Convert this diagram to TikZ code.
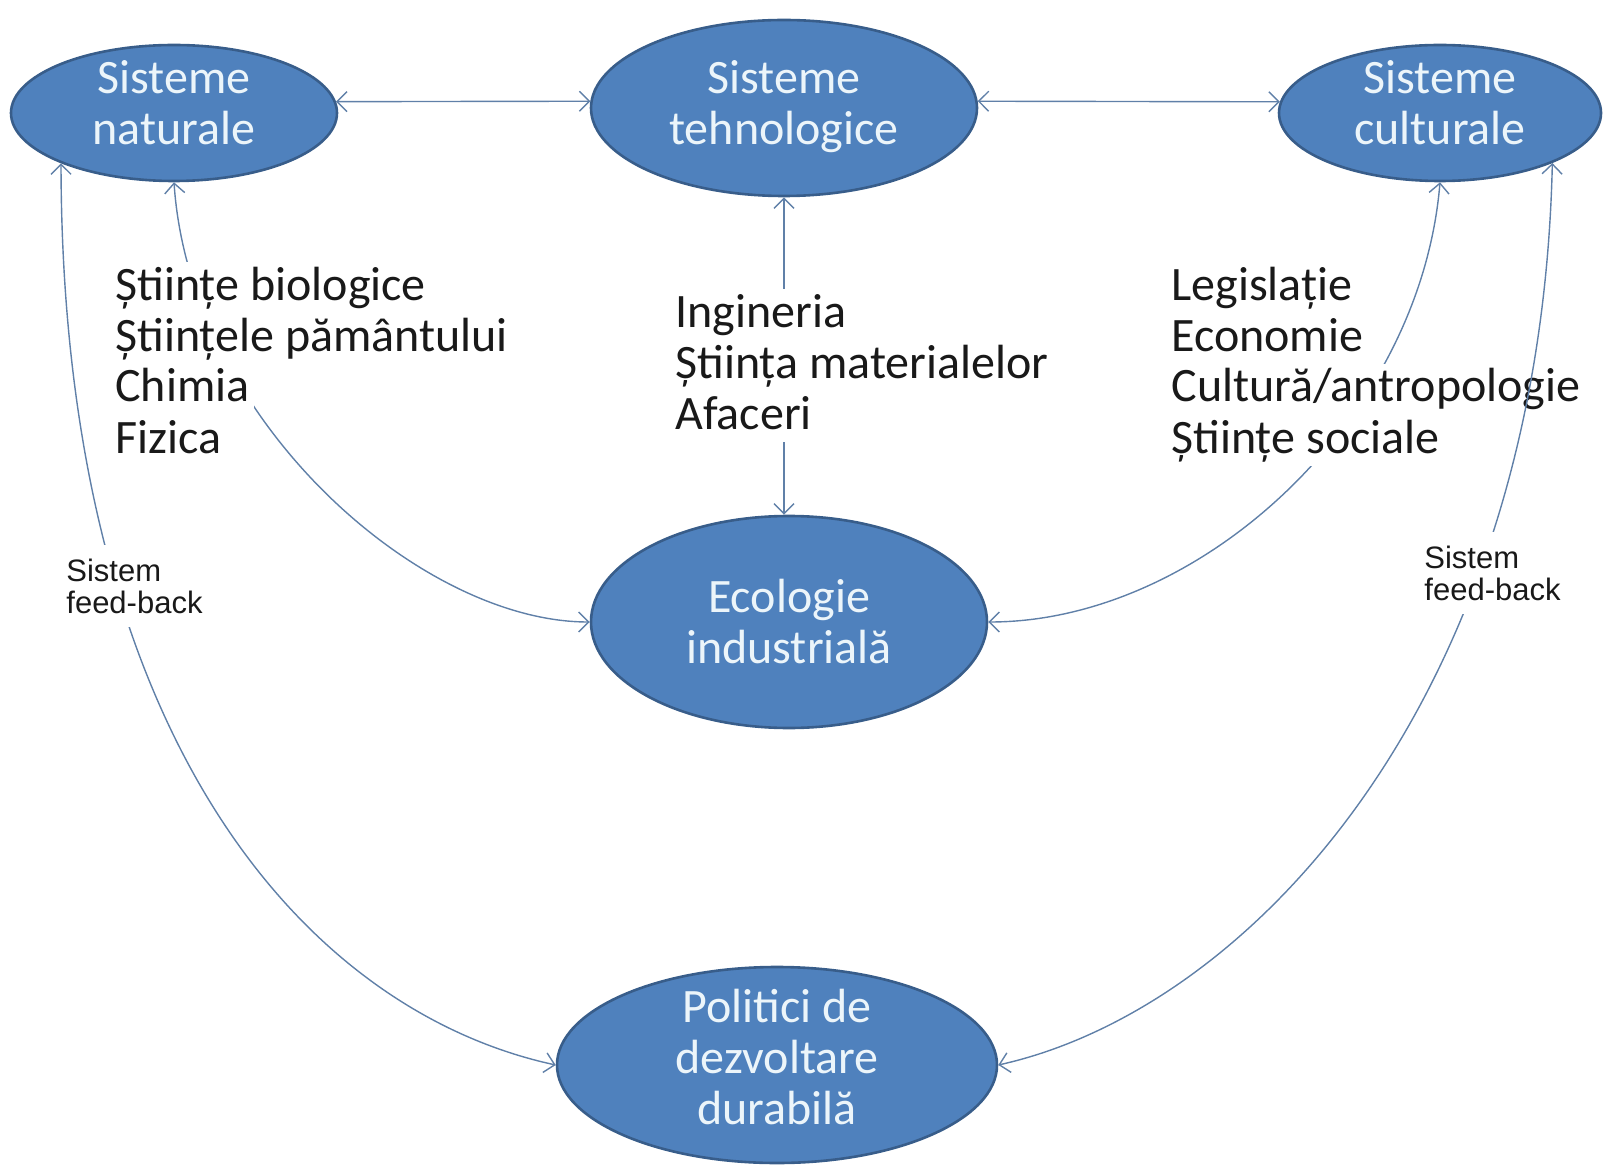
\documentclass[tikz,border=0pt]{standalone}
\usepackage{fontspec}
\setmainfont{Carlito}
\newfontfamily\labelfont{Liberation Sans}
\usetikzlibrary{shapes.geometric, arrows.meta}

\definecolor{sysfill}{RGB}{79,129,189}
\definecolor{sysdraw}{RGB}{56,93,138}
\definecolor{systext}{RGB}{236,245,250}
\definecolor{linkcol}{RGB}{96,128,168}
\definecolor{listtext}{RGB}{25,25,25}

\newcommand{\maskline}[1]{{\setlength{\fboxsep}{0pt}\colorbox{white}{\rule[-6.5pt]{0pt}{25.5pt}\hspace*{2pt}#1\hspace*{2pt}}}}
\newcommand{\liftby}[1]{\rule[-#1]{0pt}{0pt}}

\tikzset{
    system/.style={ellipse, draw=sysdraw, fill=sysfill, line width=1.3pt, text=systext,
        align=center, inner sep=0pt, inner ysep=-3pt, font=\fontsize{24}{25.5}\selectfont},
    list/.style={anchor=west, align=left, inner sep=0pt, text=listtext,
        font=\fontsize{24}{25.5}\selectfont},
    feedback/.style={anchor=west, align=left, fill=white, inner xsep=3pt, inner ysep=7pt,
        text=listtext, font=\labelfont\fontsize{15.5}{16}\selectfont},
    link/.style={{Straight Barb[length=5pt,width=10pt]}-{Straight Barb[length=5pt,width=10pt]},
        draw=linkcol, line width=0.7pt}
}

\begin{document}
\begin{tikzpicture}[x=0.5pt, y=-0.5pt]
    \useasboundingbox (0,0) rectangle (1604,1165);
    \node[system, minimum width=163pt, minimum height=68pt] (naturale) at (174,113)
        {Sisteme\\naturale\liftby{11pt}};
    \node[system, minimum width=193pt, minimum height=88pt] (tehnologice) at (784,108)
        {Sisteme\\tehnologice\liftby{6pt}};
    \node[system, minimum width=161pt, minimum height=68pt] (culturale) at (1440,113)
        {Sisteme\\culturale\liftby{11pt}};
    \node[system, minimum width=198pt, minimum height=106pt] (ecologie) at (789,622) {Ecologie\\industrială};
    \node[system, minimum width=220pt, minimum height=98pt, inner ysep=-6pt] (politici) at (777,1065)
        {Politici de\\dezvoltare\\durabilă\liftby{8pt}};
    \draw[link] (naturale.4) -- (tehnologice.178);
    \draw[link] (tehnologice.2) -- (culturale.176);
    \draw[link] (tehnologice.south) -- (tehnologice.south |- ecologie.north);
    \draw[link] (naturale.south) .. controls (190,420) and (420,622) .. (ecologie.west);
    \draw[link] (culturale.south) .. controls (1420,420) and (1200,622) .. (ecologie.east);
    \node[list] (natural-list) at (111,364)
        {\maskline{Științe biologice}\\\maskline{Științele pământului}\\\maskline{Chimia}\\\maskline{Fizica}};
    \node[list] (tech-list) at (671,366)
        {\maskline{Ingineria}\\\maskline{Știința materialelor}\\\maskline{Afaceri}};
    \node[list] (cultural-list) at (1167,364)
        {\maskline{Legislație}\\\maskline{Economie}\\\maskline{Cultură/antropologie}\\\maskline{Științe sociale}};
    \draw[link] (naturale.204) .. controls (62,740) and (307,1011) .. (politici.west);
    \draw[link] (culturale.-24) .. controls (1540,700) and (1250,1009) .. (politici.east);
    \node[feedback] (feedback-left) at (60,586) {Sistem\\feed-back};
    \node[feedback] (feedback-right) at (1418,573) {Sistem\\feed-back};
\end{tikzpicture}
\end{document}
